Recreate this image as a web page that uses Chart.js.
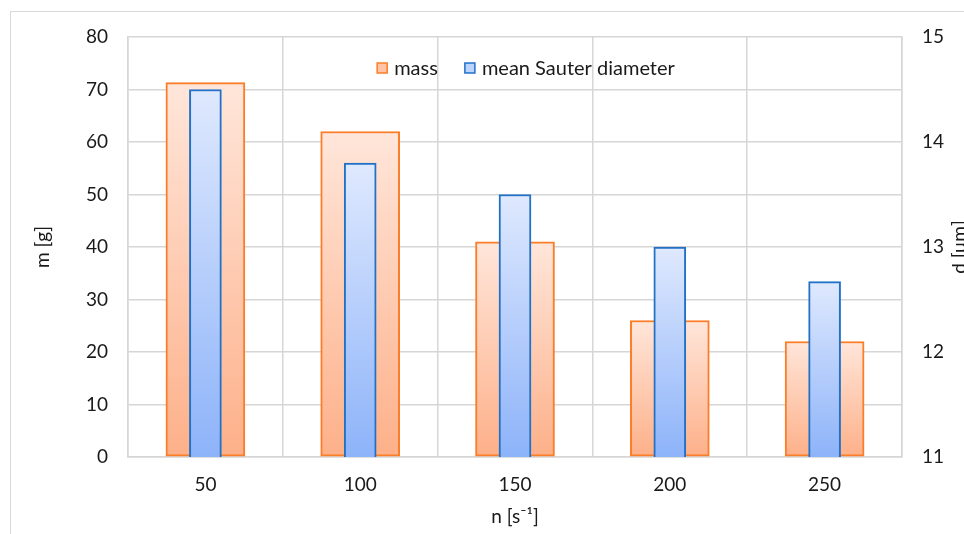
<!DOCTYPE html>
<html>
<head>
<meta charset="utf-8">
<script src="https://cdn.jsdelivr.net/npm/chart.js@4"></script>
<style>
  html, body { margin: 0; padding: 0; background: #fff; overflow: hidden; }
  #frame {
    position: absolute; left: 10px; top: 11px; width: 1200px; height: 800px;
    border-left: 1.5px solid #d9d9d9; border-top: 1.5px solid #d9d9d9;
  }
  #wrap { position: absolute; left: 0; top: 0; width: 964px; height: 534px; }
</style>
</head>
<body>
<div id="frame"></div>
<div id="wrap"><canvas id="chart"></canvas></div>
<script>
// ── data ─────────────────────────────────────────────
const categories     = ["50", "100", "150", "200", "250"];
const massValues     = [71.3, 62, 41, 26, 22];          // m [g], left axis
const diameterValues = [14.5, 13.8, 13.5, 13.0, 12.67]; // d [μm], right axis
const massTicks      = [0, 10, 20, 30, 40, 50, 60, 70, 80];
const diameterTicks  = [11, 12, 13, 14, 15];

// ── style ────────────────────────────────────────────
const FONT = "Lato";
const TEXT = "#1a1a1a";
const GRID = "#d6d6d6";

// vertical gradient per bar, light on top, darker at the base
function barGradient(topColor, bottomColor, flat) {
  return (ctx) => {
    const chart = ctx.chart;
    if (ctx.type !== "data" || !chart.chartArea) return flat;
    const scale = chart.scales[ctx.dataset.yAxisID];
    const yTop = scale.getPixelForValue(ctx.raw);
    const yBase = scale.getPixelForValue(scale.min);
    if (!isFinite(yTop) || !isFinite(yBase) || yBase - yTop < 1) return flat;
    const g = chart.ctx.createLinearGradient(0, yTop, 0, yBase);
    g.addColorStop(0, topColor);
    g.addColorStop(1, bottomColor);
    return g;
  };
}

// legend inside the plot, near the top, in dataset order
const innerLegend = {
  id: "innerLegend",
  afterDatasetsDraw(chart) {
    const c = chart.ctx;
    const area = chart.chartArea;
    const box = 10, textGap = 7, itemGap = 27;
    c.save();
    c.font = `20px ${FONT}`;
    c.textBaseline = "middle";
    const items = chart.data.datasets.map((ds) => ({
      ds, w: box + textGap + c.measureText(ds.label).width,
    }));
    const total = items.reduce((a, it) => a + it.w, 0) + itemGap * (items.length - 1);
    let x = (area.left + area.right) / 2 - total / 2 + 11;
    const y = area.top + 31;
    items.forEach(({ ds, w }) => {
      c.fillStyle = ds.legendFill;
      c.strokeStyle = ds.borderColor;
      c.lineWidth = 1.5;
      c.fillRect(x, y - box / 2, box, box);
      c.strokeRect(x, y - box / 2, box, box);
      c.fillStyle = TEXT;
      c.fillText(ds.label, x + box + textGap, y + 1);
      x += w + itemGap;
    });
    c.restore();
  },
};

// right axis title, rotated the same way as the left one
const rightTitle = {
  id: "rightTitle",
  afterDraw(chart) {
    const s = chart.scales.y1;
    const c = chart.ctx;
    c.save();
    c.translate(s.right - 4, (s.top + s.bottom) / 2);
    c.rotate(-Math.PI / 2);
    c.font = `19px ${FONT}`;
    c.fillStyle = TEXT;
    c.textAlign = "center";
    c.textBaseline = "middle";
    c.fillText("d [μm]", 0, 0);
    c.restore();
  },
};

new Chart(document.getElementById("chart"), {
  type: "bar",
  data: {
    labels: categories,
    datasets: [
      {
        label: "mass",
        data: massValues,
        yAxisID: "y",
        order: 1,
        grouped: false,
        barThickness: 79,
        backgroundColor: barGradient("#ffe6da", "#fdb089", "#fdc9ad"),
        legendFill: "#fdc4a6",
        borderColor: "#fb7d27",
        borderWidth: 2,
        borderSkipped: false,
      },
      {
        label: "mean Sauter diameter",
        data: diameterValues,
        yAxisID: "y1",
        order: 0,
        grouped: false,
        barThickness: 32,
        backgroundColor: barGradient("#dfe9fe", "#8db3f9", "#bcd2fb"),
        legendFill: "#bdd3fb",
        borderColor: "#2171c7",
        borderWidth: 2,
        borderSkipped: false,
      },
    ],
  },
  options: {
    responsive: true,
    maintainAspectRatio: false,
    animation: false,
    layout: { padding: { top: 37, left: 0, right: 0, bottom: 0 } },
    plugins: {
      tooltip: { enabled: false },
      legend: { display: false },
    },
    scales: {
      x: {
        grid: { color: GRID, lineWidth: 1.5, drawTicks: false },
        border: { color: GRID, width: 1.5 },
        ticks: { font: { family: FONT, size: 19 }, color: TEXT, padding: 16 },
        title: {
          display: true,
          text: "n [s⁻¹]",
          font: { family: FONT, size: 19 },
          color: TEXT,
          padding: { top: 0, bottom: 6 },
        },
        afterFit: (s) => { s.height = 77; },
      },
      y: {
        position: "left",
        min: massTicks[0],
        max: massTicks[massTicks.length - 1],
        afterBuildTicks: (s) => { s.ticks = massTicks.map((v) => ({ value: v })); },
        grid: { color: GRID, lineWidth: 1.5, drawTicks: false },
        border: { color: GRID, width: 1.5 },
        ticks: { font: { family: FONT, size: 19 }, color: TEXT, padding: 20 },
        title: {
          display: true,
          text: "m [g]",
          font: { family: FONT, size: 19 },
          color: TEXT,
          padding: { top: 31, bottom: 0 },
        },
        afterFit: (s) => { s.width = 128; },
      },
      y1: {
        position: "right",
        min: diameterTicks[0],
        max: diameterTicks[diameterTicks.length - 1],
        afterBuildTicks: (s) => { s.ticks = diameterTicks.map((v) => ({ value: v })); },
        grid: { display: false, drawTicks: false },
        border: { color: GRID, width: 1.5 },
        ticks: { font: { family: FONT, size: 19 }, color: TEXT, padding: 20 },
        afterFit: (s) => { s.width = 62; },
      },
    },
  },
  plugins: [innerLegend, rightTitle],
});
</script>
</body>
</html>
